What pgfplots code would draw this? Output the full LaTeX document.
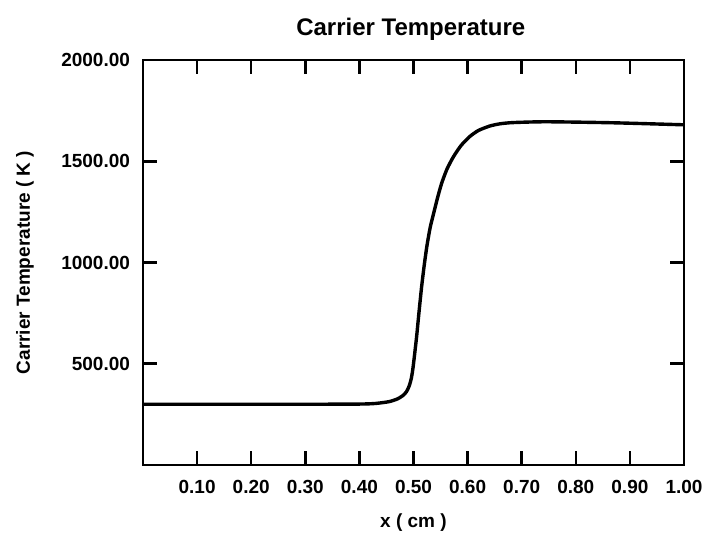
\documentclass[border=0pt]{standalone}
\usepackage{fontspec}
\setmainfont{Liberation Sans}
\usepackage{pgfplots}
\pgfplotsset{compat=1.18}
\begin{document}
\begin{tikzpicture}
\path[use as bounding box] (-71.5pt,-39pt) rectangle (282pt,232.5pt);
\begin{axis}[
  scale only axis,
  width=270.5pt, height=202.5pt,
  xmin=0, xmax=1, ymin=0, ymax=2000,
  xtick={0.1,0.2,0.3,0.4,0.5,0.6,0.7,0.8,0.9,1.0},
  ytick={500,1000,1500,2000},
  tick align=inside,
  major tick length=7pt,
  every tick/.style={line width=1.3pt, black},
  axis line style={line width=1.3pt},
  tick label style={font=\fontsize{9.5}{11}\selectfont\bfseries},
  /pgf/number format/assume math mode=true,
  /pgf/number format/fixed, /pgf/number format/fixed zerofill,
  /pgf/number format/precision=2,
  /pgf/number format/1000 sep={},
  yticklabel style={xshift=-3pt},
  xticklabel style={yshift=-4pt},
  title={Carrier Temperature},
  title style={font=\fontsize{12}{14}\selectfont\bfseries, at={(axis description cs:0.495,1.047)}, anchor=center},
  xlabel={x ( cm )},
  xlabel style={font=\fontsize{9.5}{11}\selectfont\bfseries, at={(axis description cs:0.5,-0.141)}, anchor=center},
  ylabel={Carrier Temperature ( K )},
  ylabel style={font=\fontsize{9.5}{11}\selectfont\bfseries, at={(axis description cs:-0.218,0.5)}, anchor=center},
]
\addplot[black, line width=1.7pt, smooth, tension=0.4] coordinates {
(0.00,300) (0.10,300) (0.20,300) (0.30,300) (0.40,301) (0.43,304) (0.455,313)
(0.47,326) (0.48,342) (0.487,362) (0.492,390) (0.496,428) (0.499,478)
(0.502,545) (0.506,640) (0.510,750) (0.515,880) (0.520,990) (0.525,1085)
(0.531,1175) (0.537,1240) (0.544,1315) (0.552,1391) (0.562,1462) (0.574,1523)
(0.588,1578) (0.604,1622) (0.62,1652) (0.641,1674) (0.66,1685) (0.684,1691)
(0.746,1695) (0.869,1690) (1.00,1680)
};
\end{axis}
\end{tikzpicture}
\end{document}
